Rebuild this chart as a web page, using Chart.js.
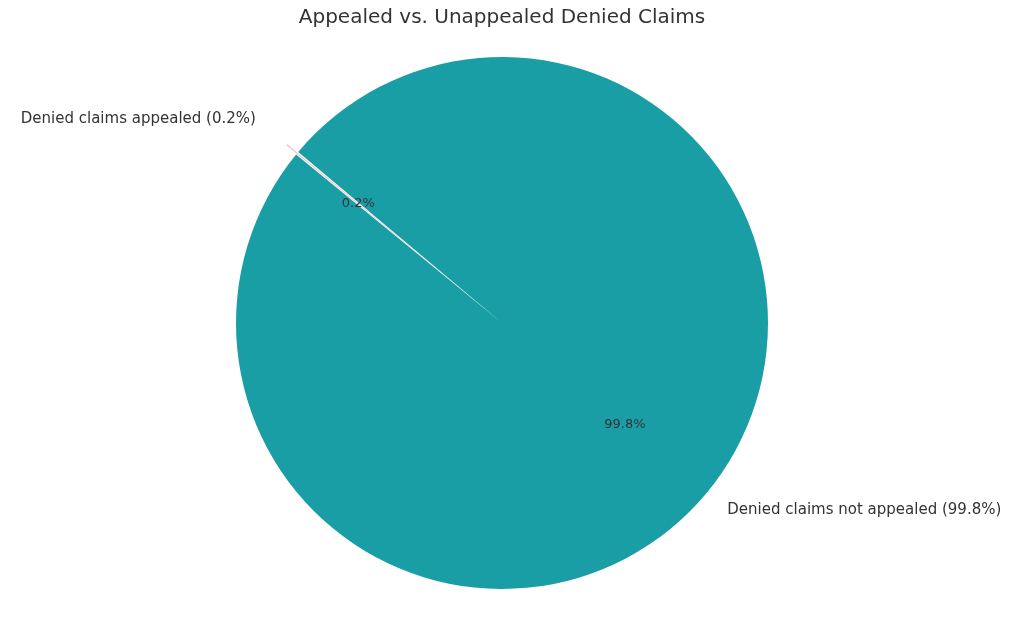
<!DOCTYPE html>
<html>
<head>
<meta charset="utf-8">
<script src="https://cdn.jsdelivr.net/npm/chart.js@4"></script>
<style>
  html, body { margin: 0; background: #fff; }
  #wrap { width: 1024px; height: 624px; }
</style>
</head>
<body>
<div id="wrap"><canvas id="pie"></canvas></div>
<script>
const labels = ['Denied claims appealed', 'Denied claims not appealed'];
const shares = [0.2, 99.8];
const colors = ['#f4c2c2', '#1a9ea6'];
const pctLabels = ['0.2%', '99.8%'];

const startDeg = 140; // matplotlib-style start angle, counter-clockwise from +x
const total = shares.reduce((a, b) => a + b, 0);
const firstSweep = shares[0] / total * 360;

// matplotlib style labels: name at 1.1r, pct at 0.6r, plus explosion offset
const pieText = {
  id: 'pieText',
  afterDraw(chart) {
    const ctx = chart.ctx;
    const meta = chart.getDatasetMeta(0);
    ctx.save();
    ctx.fillStyle = '#333';
    ctx.font = '20px "DejaVu Sans"';
    ctx.textAlign = 'center';
    ctx.textBaseline = 'middle';
    ctx.fillText('Appealed vs. Unappealed Denied Claims', 502, 18);
    meta.data.forEach((arc, i) => {
      const p = arc.getProps(['x', 'y', 'startAngle', 'endAngle', 'outerRadius'], true);
      const mid = (p.startAngle + p.endAngle) / 2;
      const off = (chart.data.datasets[0].offset[i] || 0);
      const cx = p.x, cy = p.y, r = p.outerRadius;
      const lr = r * 1.1 + off, pr = r * 0.6 + off;
      const lx = cx + Math.cos(mid) * lr, ly = cy + Math.sin(mid) * lr;
      ctx.font = '15px "DejaVu Sans"';
      ctx.textAlign = Math.cos(mid) < 0 ? 'right' : 'left';
      ctx.fillText(labels[i] + ' (' + shares[i] + '%)', lx, ly);
      ctx.font = '13px "DejaVu Sans"';
      ctx.textAlign = 'center';
      ctx.fillText(pctLabels[i], cx + Math.cos(mid) * pr, cy + Math.sin(mid) * pr);
    });
    ctx.restore();
  }
};

new Chart(document.getElementById('pie'), {
  type: 'pie',
  data: {
    labels,
    datasets: [{
      data: shares,
      backgroundColor: colors,
      borderWidth: 0,
      offset: [27, 0]
    }]
  },
  options: {
    responsive: true,
    maintainAspectRatio: false,
    animation: false,
    radius: 266,
    rotation: 90 - startDeg - firstSweep + 360,
    layout: { padding: { left: 202, right: 222, top: 23, bottom: 1 } },
    plugins: { legend: { display: false }, title: { display: false }, tooltip: { enabled: false } }
  },
  plugins: [pieText]
});
</script>
</body>
</html>
